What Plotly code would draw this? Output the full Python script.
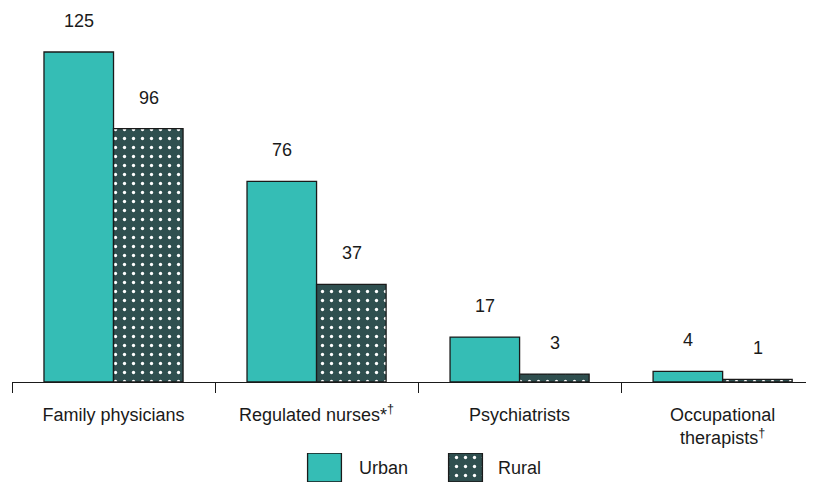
import plotly.graph_objects as go

categories = ["Family physicians", "Regulated nurses*<sup>†</sup>", "Psychiatrists",
              "Occupational<br>therapists<sup>†</sup>"]
urban = [125, 76, 17, 4]
rural = [96, 37, 3, 1]
series_names = ["Urban", "Rural"]

W, H = 814, 486
OFF = 8  # page body margin offset
URBAN_C = "#35bdb5"
RURAL_C = "#2f4f4f"
EDGE = "#1a1a1a"
FONT = "Liberation Sans, Arial, sans-serif"
FS = 18
rural_pattern = dict(shape=".", bgcolor=RURAL_C, fgcolor="white", size=9,
                     solidity=0.11, fillmode="replace")

fig = go.Figure()
fig.add_trace(go.Bar(x=categories, y=urban, name="Urban", marker_color=URBAN_C,
                     marker_line=dict(color=EDGE, width=1.3), showlegend=False))
fig.add_trace(go.Bar(x=categories, y=rural, name="Rural", marker_color=RURAL_C,
                     marker_pattern=rural_pattern,
                     marker_line=dict(color=EDGE, width=1.3), showlegend=False))

# value labels
for vals, shift in ((urban, -35), (rural, 35)):
    for c, v in zip(categories, vals):
        fig.add_annotation(x=c, y=v, xref="x", yref="y", text=str(v), showarrow=False,
                           xshift=shift, yshift=31, yanchor="middle",
                           font=dict(size=FS, color="#1a1a1a", family=FONT))

# custom legend with large swatches
fig.add_trace(go.Bar(x=[series_names[0]], y=[1], xaxis="x2", yaxis="y2",
                     marker_color=URBAN_C, marker_line=dict(color=EDGE, width=1.3),
                     width=0.24, showlegend=False, hoverinfo="skip"))
fig.add_trace(go.Bar(x=[series_names[1]], y=[1], xaxis="x2", yaxis="y2",
                     marker_color=RURAL_C, marker_pattern=rural_pattern,
                     marker_line=dict(color=EDGE, width=1.3),
                     width=0.24, showlegend=False, hoverinfo="skip"))
for name, shift in zip(series_names, (32, 30)):
    fig.add_annotation(x=name, y=0.5, xref="x2", yref="y2", text=name, showarrow=False,
                       xanchor="left", xshift=shift, yanchor="middle",
                       font=dict(size=FS, color="#1a1a1a", family=FONT))

fig.update_layout(
    width=W, height=H,
    margin=dict(l=0, r=0, t=0, b=0),
    paper_bgcolor="white", plot_bgcolor="white",
    barmode="group", bargap=0.315, bargroupgap=0,
    font=dict(family=FONT, size=FS, color="#1a1a1a"),
    xaxis=dict(domain=[(12 - OFF) / W, 1], range=[-0.5, 3.45 + 8 / 203], type="category",
               showline=True, linecolor=EDGE, linewidth=1.2,
               ticks="outside", tickson="boundaries", ticklen=10, tickwidth=1.2,
               tickcolor=EDGE, showgrid=False, automargin=False,
               ticklabelstandoff=16,
               tickfont=dict(size=FS, family=FONT, color="#1a1a1a")),
    yaxis=dict(domain=[(H - 382 + OFF) / H, 1], range=[0, (382 - OFF) / 2.64 + 0.0],
               visible=False, showgrid=False, zeroline=False),
    xaxis2=dict(domain=[(254 - OFF) / W, (536 - OFF) / W], anchor="y2", type="category",
                range=[-0.5, 1.5], visible=False, showgrid=False),
    yaxis2=dict(domain=[(H - 482 + OFF) / H, (H - 453 + OFF) / H], anchor="x2",
                range=[0, 1], visible=False, showgrid=False, zeroline=False),
)

fig.write_html("out.html")
